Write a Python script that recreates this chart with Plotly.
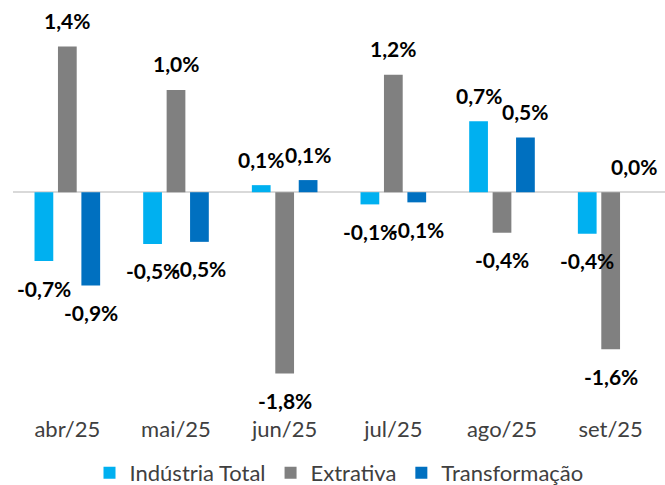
import plotly.graph_objects as go

categories = ["abr/25", "mai/25", "jun/25", "jul/25", "ago/25", "set/25"]
industria_total = [-0.68, -0.51, 0.07, -0.12, 0.70, -0.41]
extrativa = [1.44, 1.01, -1.79, 1.16, -0.40, -1.55]
transformacao = [-0.92, -0.49, 0.12, -0.10, 0.54, 0.0]

series_names = ["Indústria Total", "Extrativa", "Transformação"]
series_values = [industria_total, extrativa, transformacao]
colors = ["#00B0F0", "#808080", "#0070C0"]

FONT = "Lato"
bargap = 0.353

fig = go.Figure()
for name, vals, col in zip(series_names, series_values, colors):
    fig.add_trace(go.Bar(
        x=categories, y=vals, name=name, marker_color=col,
        marker_line_width=0, hoverinfo="skip",
    ))

def fmt(v):
    s = f"{abs(v):.1f}".replace(".", ",") + "%"
    return ("-" + s) if v < 0 else s

slot = (1 - bargap) / 3
annotations = []
for k, vals in enumerate(series_values):
    for i, v in enumerate(vals):
        annotations.append(dict(
            x=i + (k - 1) * slot, y=v, xref="x", yref="y",
            text="<b>" + fmt(v) + "</b>", showarrow=False,
            yshift=26 if v >= 0 else -27,
            font=dict(family=FONT, size=21, color="#000000"),
            xanchor="center", yanchor="middle",
        ))

fig.update_layout(
    width=665, height=485,
    margin=dict(l=13, r=0, t=13, b=71, autoexpand=False),
    paper_bgcolor="white", plot_bgcolor="white",
    barmode="group", bargap=bargap, bargroupgap=0.2,
    font=dict(family=FONT, size=20, color="#404040"),
    showlegend=True,
    legend=dict(orientation="h", x=0.5, xanchor="center",
                yref="container", y=0.025, yanchor="middle",
                font=dict(family=FONT, size=22, color="#404040"),
                itemwidth=30, tracegroupgap=0, itemclick=False),
    annotations=annotations,
    xaxis=dict(type="category", showgrid=False, showline=False, ticks="",
               tickfont=dict(family=FONT, size=22, color="#404040")),
    yaxis=dict(range=[-2.19, 1.77], showgrid=False, showticklabels=False,
               zeroline=True, zerolinecolor="#D9D9D9", zerolinewidth=2),
)

fig.write_html("out.html", config={"displayModeBar": False},
               post_script="document.body.style.margin='0';")
